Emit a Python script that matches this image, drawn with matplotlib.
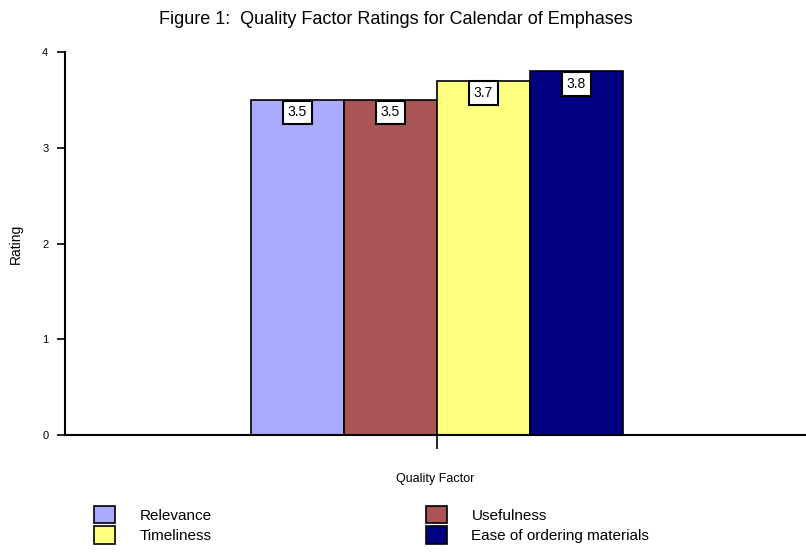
import matplotlib.pyplot as plt

factors = ['Relevance', 'Usefulness', 'Timeliness', 'Ease of ordering materials']
ratings = [3.5, 3.5, 3.7, 3.8]
colors = ['#AAAAFF', '#AA5555', '#FFFF80', '#000080']
positions = [-1.5, -0.5, 0.5, 1.5]

plt.rcParams['font.family'] = ['Liberation Sans', 'DejaVu Sans']

fig = plt.figure(figsize=(8.06, 5.52), dpi=100)
ax = fig.add_axes([65 / 806, 1 - 435 / 552, 741 / 806, 383 / 552])

bars = ax.bar(positions, ratings, width=1.0, color=colors, edgecolor='black', linewidth=1.2)
for x, v in zip(positions, ratings):
    ax.annotate(f"{v:.1f}", (x, v), xytext=(0, -4), textcoords='offset points',
                ha='center', va='top', fontsize=10,
                bbox=dict(boxstyle='square,pad=0.35', fc='white', ec='black', lw=1.5))

ax.set_xlim(-4, 3.97)
ax.set_ylim(0, 4)
ax.set_yticks([0, 1, 2, 3, 4])
ax.set_xticks([0])
ax.set_xticklabels([''])
ax.tick_params(axis='y', direction='out', length=6, width=1.2, labelsize=8, pad=6)
ax.tick_params(axis='x', direction='out', length=10, width=1.2)
ax.spines['top'].set_visible(False)
ax.spines['right'].set_visible(False)
ax.spines['left'].set_linewidth(1.5)
ax.spines['bottom'].set_linewidth(1.5)

ax.set_xlabel('Quality Factor', fontsize=9, labelpad=14)
ax.set_ylabel('Rating', fontsize=10, labelpad=14)
fig.text(396 / 806, 1 - 20 / 552, 'Figure 1:  Quality Factor Ratings for Calendar of Emphases',
         ha='center', va='center', fontsize=13)

order = [0, 2, 1, 3]
fig.legend([bars[i] for i in order], [factors[i] for i in order], ncol=2, loc='upper left',
           bbox_to_anchor=(80 / 806, 1 - 492 / 552),
           frameon=False, fontsize=11, handlelength=1.4, handleheight=1.4,
           columnspacing=14.0, handletextpad=1.6, labelspacing=0.2)

fig.savefig('out.png', dpi=100)
